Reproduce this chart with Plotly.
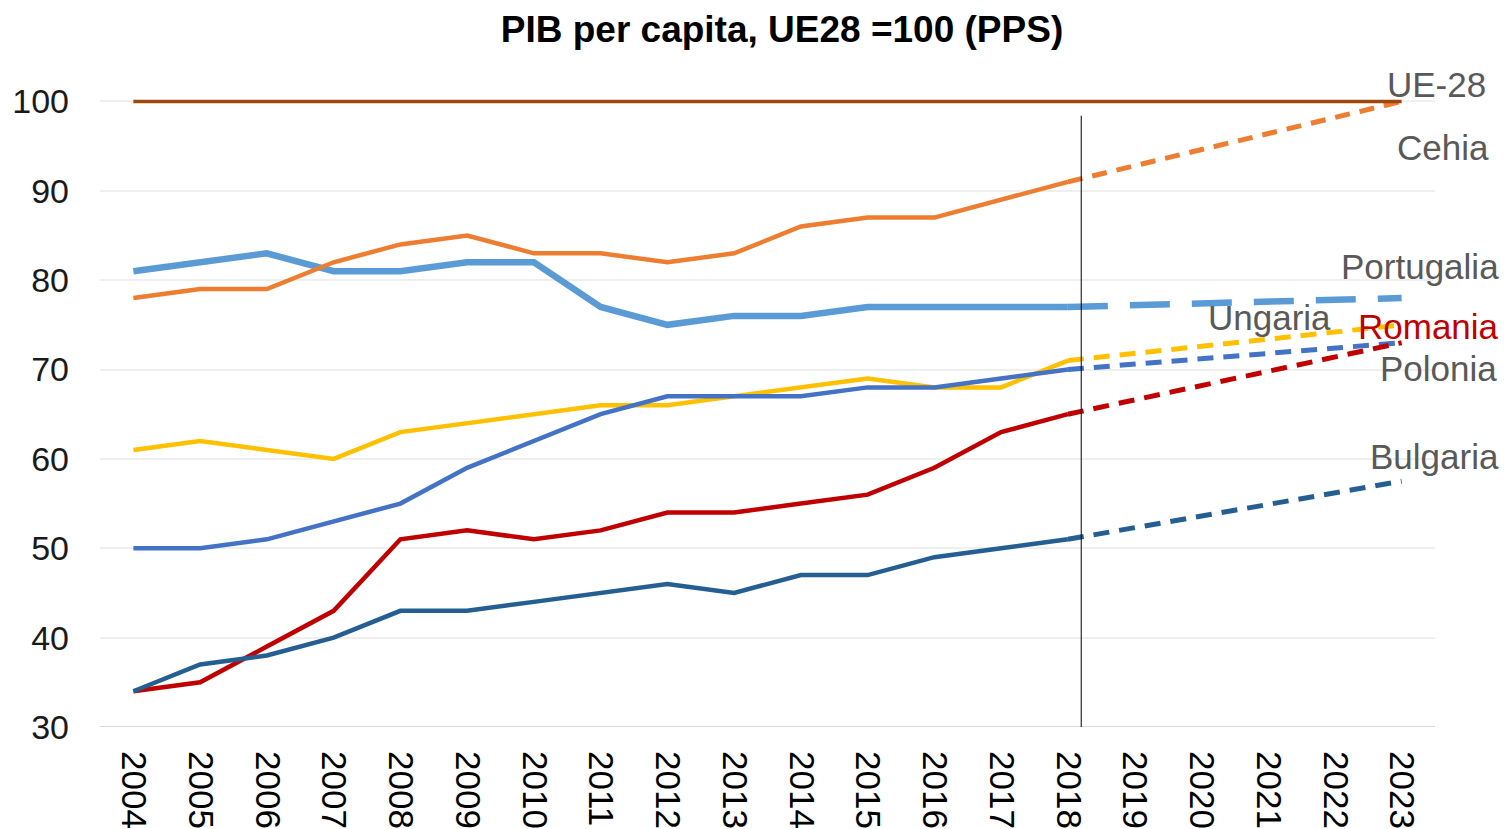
import plotly.graph_objects as go

# ---------------- data ----------------
years = list(range(2004, 2019))
proj_years = [2018, 2023]
all_years = list(range(2004, 2024))
tick_labels = [str(y) for y in all_years]
y_ticks = [30, 40, 50, 60, 70, 80, 90, 100]

ue28 = [100] * 20

cehia = [78, 79, 79, 82, 84, 85, 83, 83, 82, 83, 86, 87, 87, 89, 91]
cehia_proj = [91, 100]

portugalia = [81, 82, 83, 81, 81, 82, 82, 77, 75, 76, 76, 77, 77, 77, 77]
portugalia_proj = [77, 78]

ungaria = [61, 62, 61, 60, 63, 64, 65, 66, 66, 67, 68, 69, 68, 68, 71]
ungaria_proj = [71, 75]

polonia = [50, 50, 51, 53, 55, 59, 62, 65, 67, 67, 67, 68, 68, 69, 70]
polonia_proj = [70, 73]

romania = [34, 35, 39, 43, 51, 52, 51, 52, 54, 54, 55, 56, 59, 63, 65]
romania_proj = [65, 73]

bulgaria = [34, 37, 38, 40, 43, 43, 44, 45, 46, 45, 47, 47, 49, 50, 51]
bulgaria_proj = [51, 57.5]

# ---------------- style ----------------
W, H = 1506, 829
PX_PER_UNIT = (727 - 101) / 70.0
Y_TOP = 101.5
L, R = 100, 71
T = int(round(101 - (Y_TOP - 100) * PX_PER_UNIT))
B = H - 727
FONT = "Liberation Sans, Arial, sans-serif"

C_UE = "#9E480E"
C_CZ = "#ED7D31"
C_PT = "#5B9BD5"
C_HU = "#FFC000"
C_PL = "#4472C4"
C_RO = "#C00000"
C_BG = "#255E91"
C_LBL = "#595959"

fig = go.Figure()

def add(x, y, color, width, dash="solid"):
    fig.add_trace(go.Scatter(x=x, y=y, mode="lines", cliponaxis=False,
                             line=dict(color=color, width=width, dash=dash),
                             hoverinfo="skip", showlegend=False))

# historical (solid)
add(years, portugalia, C_PT, 6.5)
add(years, cehia, C_CZ, 4.5)
add(years, ungaria, C_HU, 4.5)
add(years, polonia, C_PL, 4.5)
add(years, romania, C_RO, 4.5)
add(years, bulgaria, C_BG, 4.5)

# projections (dashed)
add(proj_years, cehia_proj, C_CZ, 5, "15px,10px")
add(proj_years, portugalia_proj, C_PT, 6.5, "40px,22px")
add(proj_years, ungaria_proj, C_HU, 5, "16px,10px")
add(proj_years, polonia_proj, C_PL, 5, "16px,10px")
add(proj_years, romania_proj, C_RO, 5, "16px,10px")
add(proj_years, bulgaria_proj, C_BG, 5, "16px,10px")

# EU-28 reference
add(all_years, ue28, C_UE, 3.5)

# vertical separator line at 2018
fig.add_shape(type="line", xref="x", yref="y", x0=2018.2, x1=2018.2,
              y0=30, y1=98.4, line=dict(color="#000000", width=1), layer="above")

pw = W - L - R

def px2paper_x(px):
    return (px - L) / pw

def px2paper_y(py):
    return (H - B - py) / (H - T - B)

labels = [
    ("UE-28", 1487, 85, C_LBL),
    ("Cehia", 1490, 147, C_LBL),
    ("Portugalia", 1500, 266, C_LBL),
    ("Ungaria", 1332, 317, C_LBL),
    ("Romania", 1500, 326, C_RO),
    ("Polonia", 1498, 368, C_LBL),
    ("Bulgaria", 1500, 456, C_LBL),
]
for txt, xr, yp, col in labels:
    fig.add_annotation(text=txt, xref="paper", yref="paper",
                       x=px2paper_x(xr), y=px2paper_y(yp),
                       xanchor="right", yanchor="middle", showarrow=False,
                       font=dict(family=FONT, size=35, color=col), borderpad=0)

fig.update_layout(
    width=W, height=H,
    margin=dict(l=L, r=R, t=T, b=B, autoexpand=False),
    paper_bgcolor="white", plot_bgcolor="white",
    title=dict(text="<b>PIB per capita, UE28 =100 (PPS)</b>",
               x=px2paper_x(782), xref="paper", xanchor="center",
               y=1 - 29 / H, yref="container", yanchor="middle",
               font=dict(family=FONT, size=37, color="#000000")),
    xaxis=dict(range=[2003.5, 2023.5], tickmode="array", tickvals=all_years,
               ticktext=tick_labels, tickangle=90, showgrid=False,
               zeroline=False, showline=False, ticks="", automargin=False,
               ticklabelstandoff=23,
               tickfont=dict(family=FONT, size=35, color="#000000")),
    yaxis=dict(range=[30, Y_TOP], tickmode="array", tickvals=y_ticks,
               showgrid=True, gridcolor="#EFEFEF", gridwidth=2, zeroline=False,
               showline=False, ticks="", ticklabelstandoff=30, automargin=False,
               tickfont=dict(family=FONT, size=34, color="#1a1a1a")),
)

# bottom axis line (slightly darker)
fig.add_shape(type="line", xref="paper", yref="y", x0=0, x1=1, y0=30, y1=30,
              line=dict(color="#D9D9D9", width=2), layer="below")

fig.write_html("out.html", config={"displayModeBar": False},
               post_script="document.body.style.margin='0';document.body.style.overflow='hidden';")
